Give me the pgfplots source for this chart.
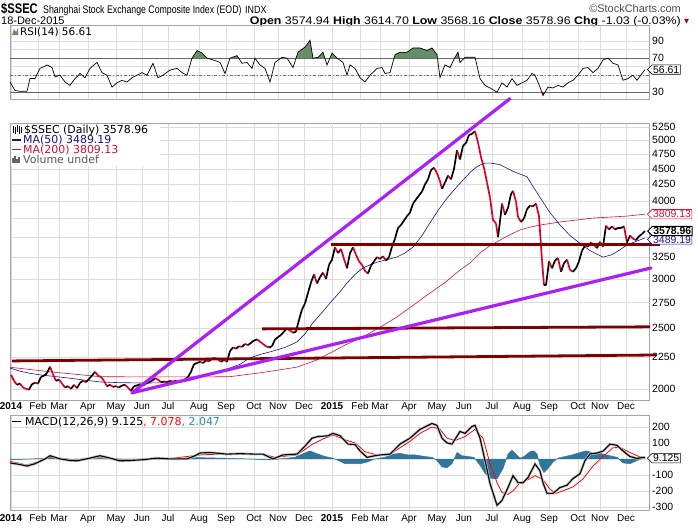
\documentclass[border=0pt]{standalone}
\usepackage{pgfplots}
\pgfplotsset{compat=1.18}
\usetikzlibrary{shapes.symbols}
\usepackage{fontspec}
\setmainfont{Liberation Sans}
\newfontfamily\dejavu{DejaVu Sans}

\definecolor{gridgray}{RGB}{220,220,220}
\definecolor{axisgray}{RGB}{165,165,165}
\definecolor{purpleline}{RGB}{172,30,250}
\definecolor{darkredline}{RGB}{128,0,0}
\definecolor{ma200}{RGB}{214,16,56}
\definecolor{ma50}{RGB}{20,20,140}
\definecolor{rsigreen}{RGB}{104,142,104}
\definecolor{histblue}{RGB}{48,118,156}
\definecolor{pricered}{RGB}{214,0,40}

\pgfplotstableread{
x p c
11 2106 0
14 2060 0
17 2030 1
20 2040 0
23 2010 0
26 2000 0
29 1995 1
32 2035 1
35 2045 0
38 2040 1
41 2090 1
44 2100 1
47 2120 1
50 2170 0
53 2110 0
56 2060 1
59 2070 0
62 2040 0
65 2010 1
68 2020 0
71 2000 1
74 2030 0
77 2005 1
80 2045 1
83 2060 0
86 2050 1
89 2075 1
92 2100 1
95 2130 0
98 2100 0
101 2090 0
104 2060 0
107 2020 1
110 2030 0
113 2015 1
116 2020 0
119 2010 1
122 2025 1
125 2030 0
128 2010 0
131 1985 1
134 2020 1
137 2025 1
140 2035 0
143 2025 1
146 2040 1
149 2050 1
152 2060 1
155 2080 0
158 2070 0
161 2050 1
164 2055 0
167 2050 1
170 2060 0
173 2055 1
176 2060 0
179 2050 1
182 2060 1
185 2070 1
188 2090 1
191 2130 1
194 2190 1
197 2200 1
200 2210 0
203 2200 1
206 2220 0
209 2215 1
212 2235 1
215 2240 0
218 2230 0
221 2210 1
224 2225 0
227 2210 1
230 2300 1
233 2330 0
236 2320 1
239 2340 0
242 2335 1
245 2360 0
248 2350 1
251 2370 1
254 2390 1
257 2400 0
260 2380 0
263 2360 0
266 2340 0
269 2330 1
272 2340 1
275 2400 1
278 2420 1
281 2440 1
284 2470 1
287 2500 0
290 2480 0
293 2460 1
296 2470 1
299 2580 1
302 2680 1
305 2740 1
308 2850 1
311 2960 1
314 3050 0
317 2950 1
320 3020 1
323 3070 0
326 3000 1
329 3160 1
332 3220 1
335 3370 0
338 3300 1
341 3350 0
344 3230 0
347 3120 1
350 3300 1
353 3370 0
356 3280 0
359 3200 0
362 3160 0
365 3090 0
368 3060 1
371 3150 1
374 3200 1
377 3250 0
380 3230 1
383 3260 0
386 3210 1
389 3250 1
392 3380 1
395 3480 1
398 3620 1
401 3660 1
404 3720 1
407 3780 1
410 3830 1
413 3960 1
416 4020 1
419 4080 1
422 4140 1
425 4250 1
428 4330 1
431 4480 1
434 4520 0
437 4430 0
440 4300 0
442 4180 1
445 4280 1
448 4390 0
451 4330 1
454 4500 1
457 4820 0
460 4660 1
463 4900 1
466 4950 1
469 5100 1
472 5120 1
475 5170 0
478 4960 0
481 4700 0
484 4520 0
487 4280 0
490 4050 0
493 3730 0
496 3680 0
498 3500 1
500 3710 1
502 3960 0
505 3800 1
508 3900 1
511 4100 1
513 4150 0
516 3990 0
518 3770 0
521 3700 1
524 3750 1
527 3880 1
530 3930 0
533 3920 1
536 3960 0
539 3780 0
542 3210 0
544 2930 1
546 2930 1
549 3200 0
552 3120 1
555 3210 1
558 3240 0
561 3080 1
564 3180 1
567 3220 0
570 3100 0
573 3080 1
576 3120 1
579 3200 1
582 3330 1
585 3390 0
588 3380 1
591 3430 0
594 3400 0
597 3360 1
600 3440 0
603 3380 1
606 3650 0
609 3600 1
612 3640 0
615 3600 1
618 3620 1
621 3620 1
624 3640 0
627 3430 1
630 3520 0
633 3480 0
636 3460 1
639 3510 1
642 3540 1
645 3579 1
}\price

\pgfplotstableread{
x v
10 2160
20 2135
30 2118
40 2106
55 2093
67 2083
85 2065
100 2052
117 2047
133 2045
150 2044
160 2045
175 2048
183 2052
193 2070
200 2090
213 2120
227 2150
240 2190
250 2242
260 2270
270 2292
285 2330
297 2378
305 2450
313 2552
322 2650
330 2745
340 2860
347 2955
355 3050
363 3123
372 3170
380 3200
390 3230
397 3252
405 3300
413 3374
422 3520
430 3690
438 3860
447 4040
455 4180
463 4319
470 4440
477 4540
485 4598
492 4595
500 4570
513 4460
527 4370
535 4170
540 4050
550 3830
560 3660
570 3520
580 3420
590 3330
603 3250
612 3280
620 3340
627 3400
635 3440
645 3489
}\mafifty

\pgfplotstableread{
x v
10 2166
50 2130
100 2092
150 2090
200 2090
230 2092
263 2125
297 2167
317 2225
330 2282
345 2350
363 2422
380 2510
397 2607
413 2720
430 2848
445 2960
460 3100
470 3181
480 3301
490 3390
500 3462
510 3530
520 3594
530 3630
540 3659
560 3700
593 3754
627 3782
645 3809
}\matwo

\pgfplotstableread{
x r
10 42
15 32
20 31
27 31
30 46
35 46
40 58
44 60
47 62
52 59
55 48
60 50
65 42
70 38
75 46
80 52
85 47
90 58
97 65
102 53
107 50
112 36
117 41
122 44
127 42
132 47
137 50
142 53
147 50
153 64
158 47
163 50
170 56
177 58
182 53
187 50
192 70
197 79
202 76
207 70
213 68
220 65
225 52
230 70
237 73
242 64
247 65
252 58
255 70
260 62
265 58
270 42
275 65
282 71
287 70
293 59
298 77
305 83
310 91
313 70
318 71
323 77
327 62
332 76
337 70
343 65
347 50
350 62
355 58
360 47
365 42
370 50
377 58
382 59
385 52
390 53
395 74
400 77
407 77
413 82
420 82
427 79
432 82
437 74
440 47
445 62
450 59
455 71
458 77
460 65
465 71
470 71
475 71
480 46
485 38
490 35
497 30
502 41
507 36
512 46
517 38
522 41
527 44
532 52
535 50
540 36
543 26
548 36
553 35
558 38
563 36
568 41
573 44
578 50
583 58
588 59
593 53
598 58
603 68
608 70
613 64
618 62
623 44
628 46
633 50
637 44
642 52
645 56.61
}\rsi

\pgfplotstableread{
x m
10 -25
20 -35
27 -45
35 -30
45 0
50 20
55 10
60 0
70 -10
77 -12
90 5
100 20
110 5
120 -12
130 -10
143 -5
157 5
170 0
187 0
195 20
200 37
210 40
227 30
240 33
255 30
263 30
273 0
283 25
297 30
305 80
312 130
318 140
323 142
328 145
333 160
340 145
348 93
355 90
360 50
367 10
375 20
380 25
390 30
400 93
410 130
420 185
432 222
437 210
442 130
447 100
452 93
457 142
460 172
465 160
472 204
475 210
480 130
485 -10
490 -154
497 -290
502 -260
508 -179
513 -105
518 -148
523 -150
528 -117
535 -31
540 -75
543 -150
547 -216
553 -216
560 -179
567 -165
573 -123
580 -93
585 -10
590 31
597 37
603 49
610 93
617 85
623 50
630 15
637 3
642 9
645 9.125
}\macd

\pgfplotstableread{
x s
10 -15
27 -38
40 -15
50 10
60 5
77 -8
100 12
120 -5
143 -4
170 2
200 25
227 32
263 30
275 10
297 25
312 90
323 125
333 150
345 120
355 100
365 45
380 20
390 28
400 70
410 110
420 160
432 200
440 185
447 130
455 115
465 140
475 185
483 130
490 -30
497 -148
502 -210
508 -222
513 -200
520 -150
528 -130
535 -105
543 -130
550 -190
556 -216
563 -200
573 -175
583 -125
593 -45
603 15
613 70
620 72
630 40
640 12
645 7.078
}\signal

\pgfplotstableread{
x h
10 0
12 -5
50 5
70 -3
100 3
130 -2
160 2
200 8
240 2
270 -6
285 3
295 10
302 30
310 50
318 30
325 15
333 5
340 -15
345 -30
352 -30
360 -30
367 -20
375 0
385 10
393 30
400 35
408 25
415 25
425 15
432 10
437 -10
442 -50
447 -55
452 -30
457 40
462 20
468 15
474 10
480 -40
485 -90
490 -120
497 -125
503 -60
508 30
512 55
516 30
520 5
524 15
530 45
534 50
537 30
540 -40
544 -85
548 -60
553 -20
558 5
565 15
572 25
580 40
586 50
592 40
600 35
610 20
617 10
623 -25
630 -30
637 -10
642 2
645 2.047
645 0
}\hist

\pgfplotsset{
  panel/.style={
    scale only axis, width=639bp, xmin=10, xmax=649, clip=false,
    axis line style={draw=axisgray},
    major tick length=0pt, minor tick length=0pt,
    xmajorgrids, ymajorgrids,
    major grid style={draw=gridgray, line width=0.5pt},
    xtick={11,38,59,88,116,142,168,199,226,254,278,304,360,380,409,437,464,492,522,549,578,600,626},
    extra x ticks={332},
    extra x tick style={grid style={draw=black!35, line width=0.5pt}},
    yticklabel pos=right,
    yticklabel style={font=\fontsize{10.5}{12}\selectfont, anchor=west, inner sep=0pt, xshift=3bp},
    xticklabel style={font=\fontsize{10}{12}\selectfont, inner sep=0pt, anchor=north},
    /pgf/number format/assume math mode=true,
  },
}

\begin{document}
\begin{tikzpicture}
\useasboundingbox (0,0) rectangle (698bp,-530bp);

% ---------- header ----------
\node[anchor=base west, inner sep=0] at (1bp,-13bp) {\scalebox{0.8}[1]{\fontsize{14}{15}\selectfont\bfseries \$SSEC}};
\node[anchor=base west, inner sep=0] at (43bp,-13bp) {\scalebox{0.8}[1]{\fontsize{11}{12}\selectfont Shanghai Stock Exchange Composite Index (EOD)}};
\node[anchor=base west, inner sep=0] at (245bp,-13bp) {\scalebox{0.85}[1]{\fontsize{10.5}{12}\selectfont INDX}};
\node[anchor=base east, inner sep=0, text=black!70] at (681bp,-12bp) {\fontsize{11}{12}\selectfont \textcopyright StockCharts.com};
\node[anchor=base west, inner sep=0] at (1bp,-24bp) {\fontsize{11}{12}\selectfont 18-Dec-2015};
\node[anchor=base east, inner sep=0] at (681bp,-24bp) {\scalebox{1.13}[1]{\fontsize{11}{12}\selectfont \textbf{Open} 3574.94 \textbf{High} 3614.70 \textbf{Low} 3568.16 \textbf{Close} 3578.96 \textbf{Chg} -1.03 (-0.03\%)}};
\node[anchor=base west, inner sep=0, text=pricered!80!black] at (684bp,-23.5bp) {\dejavu\fontsize{6.5}{7}\selectfont ▼};

% ---------- RSI panel ----------
\begin{axis}[panel, at={(10bp,-25bp)}, anchor=north west, height=74bp,
  ymin=22, ymax=109, ytick={30,40,50,60,70,80,90},
  yticklabels={30,,,,70,,90},
  xticklabels={}, extra x tick labels={}]
  \addplot[draw=black!60, line width=0.7pt, forget plot] coordinates {(10,70) (649,70)};
  \addplot[draw=black!60, line width=0.7pt, forget plot] coordinates {(10,30) (649,30)};
  \addplot[draw=black!55, line width=0.6pt, dash dot, forget plot] coordinates {(10,50) (649,50)};
  % overbought / oversold areas
  \addplot[fill=rsigreen, draw=none] coordinates {(192,70) (197,79) (202,76) (207,70)};
  \addplot[fill=rsigreen, draw=none] coordinates {(230,70) (237,73) (238.7,70)};
  \addplot[fill=rsigreen, draw=none] coordinates {(280.8,70) (282,71) (287,70)};
  \addplot[fill=rsigreen, draw=none] coordinates {(296.1,70) (298,77) (305,83) (310,91) (313,70) (318,71) (323,77) (324.9,70)};
  \addplot[fill=rsigreen, draw=none] coordinates {(329.9,70) (332,76) (337,70)};
  \addplot[fill=rsigreen, draw=none] coordinates {(394,70) (395,74) (400,77) (407,77) (413,82) (420,82) (427,79) (432,82) (437,74) (437.4,70)};
  \addplot[fill=rsigreen, draw=none] coordinates {(454.6,70) (455,71) (458,77) (459.2,70)};
  \addplot[fill=rsigreen, draw=none] coordinates {(464.2,70) (465,71) (470,71) (475,71) (475.2,70)};
  \addplot[fill=pricered, draw=none] coordinates {(541.8,30) (543,26) (545,30)};
  \addplot[draw=black, line width=0.7pt] table[x=x, y=r] {\rsi};
  \node[signal, signal to=west, draw=black, fill=white, line width=0.6pt, inner sep=1bp, anchor=west,
        font=\fontsize{10.5}{11}\selectfont] at (axis cs:647,56.61) {56.61};
\end{axis}
\fill[rsigreen] (12bp,-35bp) -- (14bp,-29bp) -- (16bp,-32bp) -- (18bp,-28bp) -- (18bp,-35bp) -- cycle;
\node[anchor=base west, inner sep=0] at (20bp,-35.5bp) {\dejavu\fontsize{10.5}{11}\selectfont RSI(14) 56.61};

% ---------- Price panel ----------
\begin{axis}[panel, at={(10bp,-123bp)}, anchor=north west, height=277bp,
  ymode=log, ymin=1920, ymax=5330,
  ytick={2000,2250,2500,2750,3000,3250,3500,3750,4000,4250,4500,4750,5000,5250},
  yticklabels={2000,2250,2500,2750,3000,3250,,,4000,4250,4500,4750,5000,5250},
  xticklabels={\textbf{2014},Feb,Mar,Apr,May,Jun,Jul,Aug,Sep,Oct,Nov,Dec,Feb,Mar,Apr,May,Jun,Jul,Aug,Sep,Oct,Nov,Dec},
  extra x tick labels={\textbf{2015}},
  xticklabel style={yshift=-2bp}]
  \addplot[color=ma200, line width=0.6pt] table[x=x, y=v] {\matwo};
  \addplot[color=ma50, line width=0.6pt] table[x=x, y=v] {\mafifty};
  \addplot[mesh, shader=flat corner, point meta=explicit, point meta min=0, point meta max=1,
    colormap={updown}{color(0cm)=(pricered); color(1cm)=(black)},
    line width=1.7pt] table[x=x, y=p, meta=c] {\price};
  \addplot[darkredline, line width=2.8pt] coordinates {(12,2217) (656,2266)};
  \addplot[darkredline, line width=2.8pt] coordinates {(262,2495) (650,2514)};
  \addplot[darkredline, line width=2.8pt] coordinates {(331,3410) (660,3410)};
  \addplot[purpleline, line width=3.2pt, line cap=round] coordinates {(132,1971) (510,5830)};
  \addplot[purpleline, line width=3.2pt, line cap=round] coordinates {(132,1971) (651,3123)};
  \node[signal, signal to=west, draw=ma200, text=ma200, fill=white, line width=0.6pt, inner sep=1bp, anchor=west,
        font=\fontsize{10.5}{11}\selectfont] at (axis cs:647,3809) {3809.13};
  \node[signal, signal to=west, draw=ma50, text=ma50, fill=white, line width=0.6pt, inner sep=1bp, anchor=west,
        font=\fontsize{10.5}{11}\selectfont] at (axis cs:647,3470) {3489.19};
  \node[signal, signal to=west, draw=black, text=black, fill=white, line width=1pt, inner sep=1bp, anchor=west,
        font=\fontsize{10.5}{11}\selectfont\bfseries] at (axis cs:647,3579) {3578.96};
\end{axis}
% legend
\fill[white] (11bp,-124bp) rectangle (160bp,-166bp);
\foreach \xx/\lo/\hi in {13/126/133,15/127/134,17/125/132,19/126/134,21/127/133}
  \draw[black, line width=1pt] (\xx bp,-\lo bp) -- (\xx bp,-\hi bp);
\node[anchor=base west, inner sep=0] at (24bp,-133.5bp) {\dejavu\fontsize{11}{12}\selectfont \$SSEC (Daily) 3578.96};
\draw[ma50, line width=1.6pt] (12bp,-140bp) -- (21bp,-140bp);
\node[anchor=base west, inner sep=0, text=ma50] at (23bp,-143.5bp) {\dejavu\fontsize{11}{12}\selectfont MA(50) 3489.19};
\draw[ma200, line width=1.6pt] (12bp,-149.5bp) -- (21bp,-149.5bp);
\node[anchor=base west, inner sep=0, text=ma200] at (23bp,-153.5bp) {\dejavu\fontsize{11}{12}\selectfont MA(200) 3809.13};
\foreach \xx/\lo in {13/158,15/156,17/159,19/157}
  \draw[black!60, line width=1.2pt] (\xx bp,-\lo bp) -- (\xx bp,-163bp);
\node[anchor=base west, inner sep=0, text=black!65] at (23bp,-163.5bp) {\dejavu\fontsize{11}{12}\selectfont Volume undef};

% ---------- MACD panel ----------
\begin{axis}[panel, at={(10bp,-415bp)}, anchor=north west, height=95bp,
  ymin=-320, ymax=275, ytick={-300,-200,-100,0,100,200},
  yticklabels={-300,-200,-100,,100,200},
  xticklabels={\textbf{2014},Feb,Mar,Apr,May,Jun,Jul,Aug,Sep,Oct,Nov,Dec,Feb,Mar,Apr,May,Jun,Jul,Aug,Sep,Oct,Nov,Dec},
  extra x tick labels={\textbf{2015}},
  xticklabel style={yshift=-4bp}]
  \addplot[fill=histblue, draw=histblue, line width=0.5pt] table[x=x, y=h] {\hist};
  \addplot[color=red, line width=0.8pt] table[x=x, y=s] {\signal};
  \addplot[color=black!25, line width=2.6pt] table[x=x, y=m] {\macd};
  \addplot[color=black, line width=1.1pt] table[x=x, y=m] {\macd};
  \node[signal, signal to=west, draw=black, fill=white, line width=0.6pt, inner sep=1bp, anchor=west,
        font=\fontsize{10.5}{11}\selectfont] at (axis cs:647,5) {9.125};
\end{axis}
\draw[black, line width=1.6pt] (12bp,-421.5bp) -- (21bp,-421.5bp);
\node[anchor=base west, inner sep=0] at (25bp,-425.5bp) {\dejavu\fontsize{11}{12}\selectfont MACD(12,26,9) 9.125\textcolor{red}{, 7.078}\textcolor{histblue!80!cyan}{, 2.047}};
\end{tikzpicture}
\end{document}
